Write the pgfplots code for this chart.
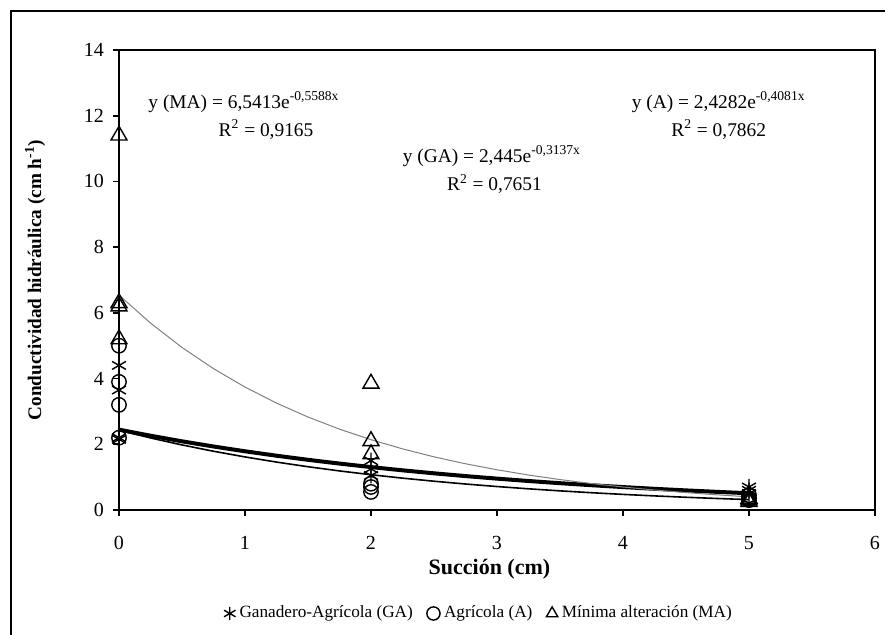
\documentclass[border=0pt]{standalone}
\usepackage{fontspec}
\setmainfont{Liberation Serif}
\usepackage{pgfplots}
\pgfplotsset{compat=1.18}
\definecolor{trendgray}{RGB}{128,128,128}
\begin{document}
\begin{tikzpicture}
\path[use as bounding box] (0,0) rectangle (442.5pt,317.5pt);
\draw[line width=1pt] (5.5pt,0) -- (5.5pt,312pt) -- (444pt,312pt);
\begin{axis}[
  at={(59.5pt,62.5pt)}, anchor=south west,
  scale only axis, width=378pt, height=230pt,
  xmin=0, xmax=6, ymin=0, ymax=14,
  xtick={0,1,2,3,4,5,6}, ytick={0,2,4,6,8,10,12,14},
  xtick pos=bottom, ytick pos=left,
  tick align=outside, major tick length=3pt,
  axis line style={line width=1pt},
  every tick/.style={black, line width=0.8pt},
  tick label style={font=\fontsize{10}{12}\selectfont},
  xticklabel style={yshift=-6.5pt},
  yticklabel style={xshift=-1pt},
  /pgf/number format/assume math mode=true,
  xlabel={\textbf{Succión (cm)}},
  ylabel={\textbf{Conductividad hidráulica (cm h\textsuperscript{-1})}},
  xlabel style={at={(axis description cs:0.49,-0.128)}, anchor=center, font=\fontsize{11}{13}\selectfont},
  ylabel style={at={(axis description cs:-0.111,0.5)}, anchor=center, font=\fontsize{9.6}{12}\selectfont},
  legend style={at={(axis description cs:0.4775,-0.225)}, anchor=center,
    draw=none, fill=none, legend columns=3,
    font=\fontsize{8.6}{10}\selectfont,
    /tikz/every even column/.append style={column sep=5pt}},
  legend image post style={mark size=3.3pt},
  legend cell align=left,
  clip=false,
]
% data points
\addplot[only marks, mark=asterisk, mark size=4pt, mark options={line width=0.7pt, black}]
  coordinates {(0,4.4) (0,3.65) (0,2.2) (0,2.15) (2,1.5) (2,1.25) (2,1.05) (5,0.7) (5,0.6) (5,0.5)};
\addlegendentry{Ganadero-Agrícola (GA)}
\addplot[only marks, mark=o, mark size=3.6pt, mark options={line width=0.7pt, black}]
  coordinates {(0,5.0) (0,3.9) (0,3.2) (0,2.2) (2,0.8) (2,0.7) (2,0.55) (5,0.45) (5,0.35) (5,0.3)};
\addlegendentry{Agrícola (A)}
\addplot[only marks, mark=triangle, mark size=4.6pt, mark options={line width=0.7pt, black}]
  coordinates {(0,11.4) (0,6.3) (0,6.2) (0,5.2) (2,3.85) (2,2.1) (2,1.7) (5,0.35) (5,0.3) (5,0.25)};
\addlegendentry{Mínima alteración (MA)}
% trend lines
\addplot[forget plot, no marks, black, line width=2pt] coordinates {
 (0,2.445) (0.25,2.2606) (0.5,2.0901) (0.75,1.9324) (1,1.7866) (1.25,1.6519) (1.5,1.5273)
 (1.75,1.4121) (2,1.3056) (2.25,1.2071) (2.5,1.1160) (2.75,1.0319) (3,0.9540) (3.25,0.8821)
 (3.5,0.8155) (3.75,0.7540) (4,0.6971) (4.25,0.6446) (4.5,0.5959) (4.75,0.5510) (5,0.5094)};
\addplot[forget plot, no marks, black, line width=0.8pt] coordinates {
 (0,2.4282) (0.25,2.1927) (0.5,1.9800) (0.75,1.7880) (1,1.6146) (1.25,1.4579) (1.5,1.3166)
 (1.75,1.1889) (2,1.0735) (2.25,0.9694) (2.5,0.8754) (2.75,0.7905) (3,0.7138) (3.25,0.6446)
 (3.5,0.5820) (3.75,0.5256) (4,0.4746) (4.25,0.4286) (4.5,0.3870) (4.75,0.3495) (5,0.3156)};
\addplot[forget plot, no marks, trendgray, line width=0.5pt] coordinates {
 (0,6.5413) (0.25,5.6884) (0.5,4.9468) (0.75,4.3018) (1,3.7410) (1.25,3.2532) (1.5,2.8290)
 (1.75,2.4602) (2,2.1395) (2.25,1.8605) (2.5,1.6179) (2.75,1.4070) (3,1.2236) (3.25,1.0640)
 (3.5,0.9253) (3.75,0.8047) (4,0.6997) (4.25,0.6085) (4.5,0.5292) (4.75,0.4602) (5,0.4002)};
% equation labels
\node[anchor=base, font=\fontsize{9.7}{12}\selectfont] at (axis cs:0.992,12.23) {y (MA) = 6,5413e\textsuperscript{-0,5588x}};
\node[anchor=base, font=\fontsize{9.7}{12}\selectfont] at (axis cs:1.167,11.38) {R\textsuperscript{2} = 0,9165};
\node[anchor=base, font=\fontsize{9.7}{12}\selectfont] at (axis cs:2.96,10.59) {y (GA) = 2,445e\textsuperscript{-0,3137x}};
\node[anchor=base, font=\fontsize{9.7}{12}\selectfont] at (axis cs:2.98,9.71) {R\textsuperscript{2} = 0,7651};
\node[anchor=base, font=\fontsize{9.7}{12}\selectfont] at (axis cs:4.76,12.23) {y (A) = 2,4282e\textsuperscript{-0,4081x}};
\node[anchor=base, font=\fontsize{9.7}{12}\selectfont] at (axis cs:4.76,11.38) {R\textsuperscript{2} = 0,7862};
\end{axis}
\end{tikzpicture}
\end{document}
